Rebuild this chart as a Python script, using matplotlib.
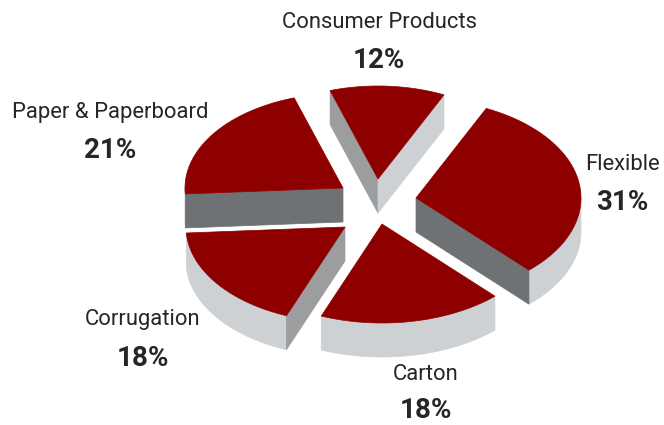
import numpy as np
import matplotlib
matplotlib.use("Agg")
import matplotlib.pyplot as plt

# shares, clockwise from the top slice
labels = ["Consumer Products", "Flexible", "Carton", "Corrugation", "Paper & Paperboard"]
shares = [12, 31, 18, 18, 21]

# where each slice was pulled out to (pixels), and its radius
apex_x = [378, 416, 382, 345, 343]
apex_y = [179, 198, 224, 227, 188]
radius = [155, 165, 165, 159, 158]

label_x = [379, 622, 426, 143, 110]
label_y = [22, 165, 375, 320, 112]
pct_y = [60, 202, 411, 358, 150]

START = 108
SQUASH = 0.6
DEPTH = 34
RED = "#8e0000"
LIGHT = "#cdd1d4"
MID = "#9b9d9f"
DARK = "#6f7275"

plt.rcParams["font.family"] = ["Roboto", "Liberation Sans", "DejaVu Sans"]

fig = plt.figure(figsize=(6.64, 4.25), dpi=100)
ax = fig.add_axes([0, 0, 1, 1])
ax.set_xlim(0, 664)
ax.set_ylim(425, 0)
ax.axis("off")


def arc(cx, cy, r, a0, a1):
    t = np.radians(np.linspace(a0, a1, 80))
    return cx + r * np.cos(t), cy - r * SQUASH * np.sin(t)


def wall(x, y, color):
    # extrude an open outline straight down
    xs = np.concatenate([x, x[::-1]])
    ys = np.concatenate([y, np.asarray(y)[::-1] + DEPTH])
    ax.fill(xs, ys, color=color, lw=0.5)


# which cut faces show, per slice: (start edge, end edge)
cut_colors = [(MID, LIGHT), (None, DARK), (None, None), (MID, None), (DARK, None)]

angle = START
for i, share in enumerate(shares):
    a0 = angle
    a1 = angle - share * 3.6
    angle = a1
    cx, cy, r = apex_x[i], apex_y[i], radius[i]

    # outer rim, only the part that faces the viewer
    lo, hi = max(a1, -180), min(a0, 0)
    if hi > lo:
        xr, yr = arc(cx, cy, r, lo, hi)
        wall(xr, yr, LIGHT)

    x0, y0 = arc(cx, cy, r, a0, a0)
    x1, y1 = arc(cx, cy, r, a1, a1)
    if cut_colors[i][0]:
        wall(np.array([cx, x0[0]]), np.array([cy, y0[0]]), cut_colors[i][0])
    if cut_colors[i][1]:
        wall(np.array([cx, x1[0]]), np.array([cy, y1[0]]), cut_colors[i][1])

    xa, ya = arc(cx, cy, r, a0, a1)
    ax.fill(np.r_[cx, xa], np.r_[cy, ya], color=RED, lw=0.5)

    ax.text(label_x[i], label_y[i], labels[i], ha="center", va="center",
            fontsize=15.8, color="#262626")
    ax.text(label_x[i], pct_y[i], f"{share}%", ha="center", va="center",
            fontsize=20, fontweight="bold", color="#262626")

fig.savefig("out.png", dpi=100)
